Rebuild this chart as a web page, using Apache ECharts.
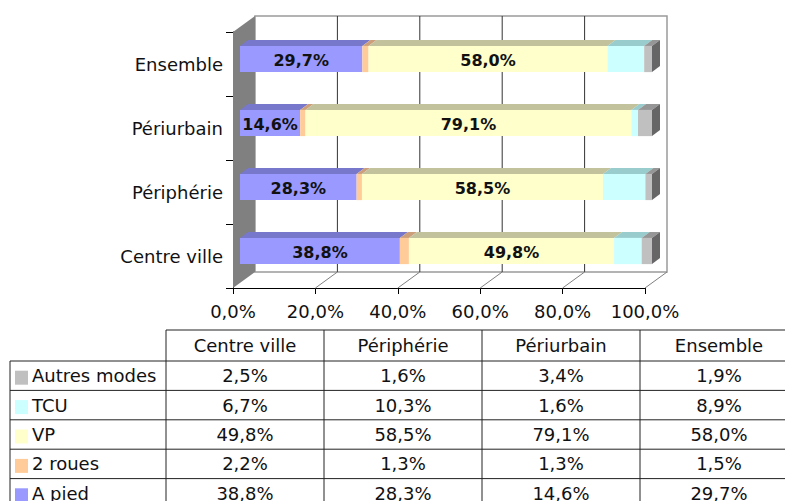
<!DOCTYPE html>
<html>
<head>
<meta charset="utf-8">
<script src="https://cdn.jsdelivr.net/npm/echarts@6/dist/echarts.min.js"></script>
<style>
  html, body { margin: 0; padding: 0; background: #fff; }
  #chart { width: 785px; height: 501px; }
</style>
</head>
<body>
<div id="chart"></div>
<script>
  // categories, bottom to top on the chart, left to right in the table
  var categories = ['Centre ville', 'Périphérie', 'Périurbain', 'Ensemble'];

  // share of trips by mode (%), same order as categories
  var aPied = [38.8, 28.3, 14.6, 29.7];
  var deuxRoues = [2.2, 1.3, 1.3, 1.5];
  var vp = [49.8, 58.5, 79.1, 58.0];
  var tcu = [6.7, 10.3, 1.6, 8.9];
  var autres = [2.5, 1.6, 3.4, 1.9];

  var xTicks = [0, 20, 40, 60, 80, 100];

  var modes = [
    { name: 'A pied', data: aPied, front: '#9999FF', top: '#7777CC', label: true },
    { name: '2 roues', data: deuxRoues, front: '#FFCC99', top: '#CC9F7A', label: false },
    { name: 'VP', data: vp, front: '#FFFFCC', top: '#C2C29C', label: true },
    { name: 'TCU', data: tcu, front: '#CCFFFF', top: '#99CCCC', label: false },
    { name: 'Autres modes', data: autres, front: '#C0C0C0', top: '#969696', side: '#666666', label: false }
  ];

  var FONT = '"DejaVu Sans", Verdana, sans-serif';
  var WALL = [22, -16];     // depth of the 3D box
  var BAR_OFF = [7, -5];    // bar front face inside the box
  var BAR_D = [8, -6];      // bar depth
  var BAR_RATIO = 0.41;

  function fmt(v) {
    return v.toFixed(1).replace('.', ',') + '%';
  }

  var chart = echarts.init(document.getElementById('chart'), null, { renderer: 'svg' });

  // walls, floor and back grid lines
  function renderWalls(params, api) {
    var band = api.size([0, 1])[1];
    var top = api.coord([0, categories.length - 1])[1] - band / 2;
    var bottom = api.coord([0, 0])[1] + band / 2;
    var left = api.coord([0, 0])[0];
    var right = api.coord([100, 0])[0];
    var dx = WALL[0], dy = WALL[1];
    var children = [];
    // back wall
    children.push({
      type: 'rect',
      shape: { x: left + dx, y: top + dy, width: right - left, height: bottom - top },
      style: { fill: '#fff', stroke: '#9a9a9a', lineWidth: 1.5 }
    });
    // back grid lines
    xTicks.slice(1, -1).forEach(function (t) {
      var x = api.coord([t, 0])[0] + dx;
      children.push({
        type: 'line',
        shape: { x1: x, y1: top + dy, x2: x, y2: bottom + dy },
        style: { stroke: '#333', lineWidth: 1 }
      });
    });
    // floor diagonals
    xTicks.slice(1).forEach(function (t) {
      var x = api.coord([t, 0])[0];
      children.push({
        type: 'line',
        shape: { x1: x, y1: bottom, x2: x + dx, y2: bottom + dy },
        style: { stroke: '#808080', lineWidth: 1 }
      });
    });
    // left wall
    children.push({
      type: 'polygon',
      shape: { points: [[left, top], [left + dx, top + dy], [left + dx, bottom + dy], [left, bottom]] },
      style: { fill: '#808080' }
    });
    return { type: 'group', children: children };
  }

  function renderBar(mode, isLast) {
    return function (params, api) {
      var s = api.value(0), e = api.value(1), cat = api.value(2);
      var p0 = api.coord([s, cat]);
      var p1 = api.coord([e, cat]);
      var h = api.size([0, 1])[1] * BAR_RATIO;
      var x0 = p0[0] + BAR_OFF[0];
      var x1 = p1[0] + BAR_OFF[0];
      var yc = p0[1] + BAR_OFF[1];
      var yt = yc - h / 2, yb = yc + h / 2;
      var children = [
        {
          type: 'polygon',
          shape: { points: [[x0, yt], [x1, yt], [x1 + BAR_D[0], yt + BAR_D[1]], [x0 + BAR_D[0], yt + BAR_D[1]]] },
          style: { fill: mode.top }
        },
        {
          type: 'rect',
          shape: { x: x0, y: yt, width: x1 - x0, height: h },
          style: { fill: mode.front }
        }
      ];
      if (isLast) {
        children.push({
          type: 'polygon',
          shape: { points: [[x1, yt], [x1 + BAR_D[0], yt + BAR_D[1]], [x1 + BAR_D[0], yb + BAR_D[1]], [x1, yb]] },
          style: { fill: mode.side }
        });
      }
      if (mode.label) {
        children.push({
          type: 'text',
          style: {
            text: fmt(e - s), x: (x0 + x1) / 2, y: yc + 1,
            align: 'center', verticalAlign: 'middle',
            textAlign: 'center', textVerticalAlign: 'middle',
            font: 'bold 16px ' + FONT, fill: '#111'
          }
        });
      }
      return { type: 'group', children: children };
    };
  }

  var series = [{
    type: 'custom',
    name: 'walls',
    renderItem: renderWalls,
    data: [[0, 0]],
    encode: { x: 0, y: 1 },
    silent: true,
    z: 1
  }];

  var cum = categories.map(function () { return 0; });
  modes.forEach(function (mode, mi) {
    var data = mode.data.map(function (v, ci) {
      var start = cum[ci];
      cum[ci] += v;
      return [start, cum[ci], ci];
    });
    series.push({
      type: 'custom',
      name: mode.name,
      renderItem: renderBar(mode, mi === modes.length - 1),
      data: data,
      encode: { x: [0, 1], y: 2 },
      z: 3
    });
  });

  // data table under the chart
  var tableRows = modes.slice().reverse();
  var colLeft = 166, colW = 158, rowLeft = 10;
  var headTop = 330, headH = 31, rowH = 29.4;
  var graphics = [];
  var lineStyle = { stroke: '#222', lineWidth: 1 };
  var tableRight = colLeft + colW * categories.length;
  var tableBottom = headTop + headH + rowH * tableRows.length;

  graphics.push({ type: 'line', shape: { x1: colLeft, y1: headTop, x2: tableRight, y2: headTop }, style: lineStyle });
  for (var r = 0; r <= tableRows.length; r++) {
    var y = headTop + headH + rowH * r;
    graphics.push({ type: 'line', shape: { x1: rowLeft, y1: y, x2: tableRight, y2: y }, style: lineStyle });
  }
  graphics.push({ type: 'line', shape: { x1: rowLeft, y1: headTop + headH, x2: rowLeft, y2: tableBottom }, style: lineStyle });
  for (var c = 0; c <= categories.length; c++) {
    var x = colLeft + colW * c;
    graphics.push({ type: 'line', shape: { x1: x, y1: headTop, x2: x, y2: tableBottom }, style: lineStyle });
  }
  categories.forEach(function (cat, ci) {
    graphics.push({
      type: 'text',
      style: {
        text: cat, x: colLeft + colW * ci + colW / 2, y: headTop + headH / 2,
        align: 'center', verticalAlign: 'middle', textAlign: 'center', textVerticalAlign: 'middle',
        font: '18px ' + FONT, fill: '#111'
      }
    });
  });
  tableRows.forEach(function (mode, ri) {
    var yc = headTop + headH + rowH * ri + rowH / 2;
    graphics.push({
      type: 'rect',
      shape: { x: 15, y: yc - 5, width: 13, height: 14 },
      style: { fill: mode.front }
    });
    graphics.push({
      type: 'text',
      style: {
        text: mode.name, x: 32, y: yc,
        align: 'left', verticalAlign: 'middle', textAlign: 'left', textVerticalAlign: 'middle',
        font: '18px ' + FONT, fill: '#111'
      }
    });
    mode.data.forEach(function (v, ci) {
      graphics.push({
        type: 'text',
        style: {
          text: fmt(v), x: colLeft + colW * ci + colW / 2, y: yc,
          align: 'center', verticalAlign: 'middle', textAlign: 'center', textVerticalAlign: 'middle',
          font: '18px ' + FONT, fill: '#111'
        }
      });
    });
  });

  chart.setOption({
    animation: false,
    grid: { left: 233, top: 32, width: 412, height: 256 },
    xAxis: {
      type: 'value',
      min: 0,
      max: 100,
      interval: 20,
      axisLine: { show: true, lineStyle: { color: '#000', width: 1 } },
      axisTick: { show: true, length: 6, lineStyle: { color: '#000' } },
      splitLine: { show: false },
      axisLabel: {
        margin: 14,
        color: '#111',
        fontFamily: FONT,
        fontSize: 18,
        formatter: function (v) { return fmt(v); }
      }
    },
    yAxis: {
      type: 'category',
      data: categories,
      axisLine: { show: true, lineStyle: { color: '#000', width: 1 } },
      axisTick: { show: true, length: 7, lineStyle: { color: '#000' } },
      axisLabel: {
        margin: 10,
        color: '#111',
        fontFamily: FONT,
        fontSize: 18
      }
    },
    graphic: graphics,
    series: series
  });
</script>
</body>
</html>
